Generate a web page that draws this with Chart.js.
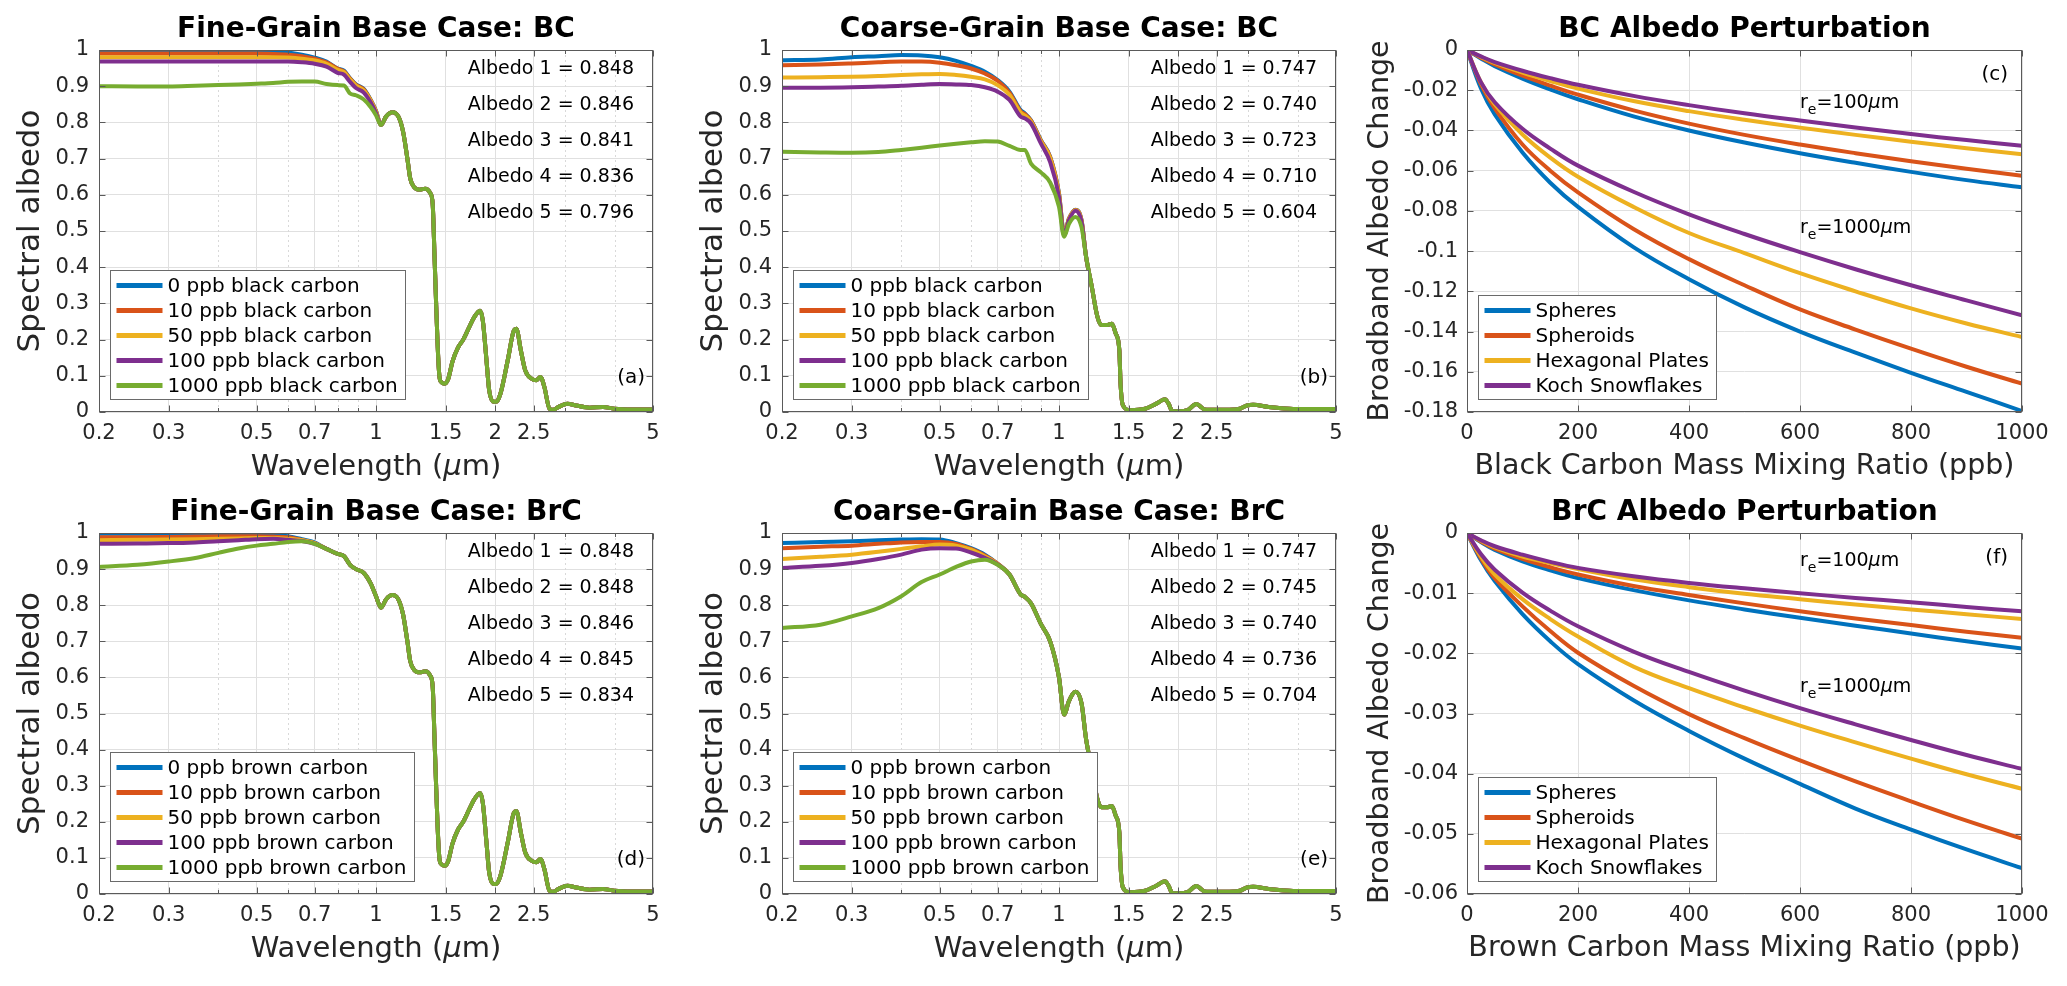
<!DOCTYPE html>
<html>
<head>
<meta charset="utf-8">
<script src="https://cdn.jsdelivr.net/npm/chart.js@4.4.1/dist/chart.umd.min.js"></script>
<style>
  html, body { margin: 0; padding: 0; background: #fff; }
  #fig { position: relative; width: 2067px; height: 986px; overflow: hidden; background: #fff; }
  #fig canvas { position: absolute; }
</style>
</head>
<body>
<div id="fig">
  <canvas id="pa" width="690" height="493" style="left:0px;top:0px"></canvas>
  <canvas id="pb" width="670" height="493" style="left:690px;top:0px"></canvas>
  <canvas id="pc" width="707" height="493" style="left:1360px;top:0px"></canvas>
  <canvas id="pd" width="690" height="493" style="left:0px;top:493px"></canvas>
  <canvas id="pe" width="670" height="493" style="left:690px;top:493px"></canvas>
  <canvas id="pf" width="707" height="493" style="left:1360px;top:493px"></canvas>
</div>
<script>
// ---------------------------------------------------------------------------
// Values
// ---------------------------------------------------------------------------

const COLORS = ["#0072BD", "#D95319", "#EDB120", "#7E2F8E", "#77AC30"];

const BC_LABELS = ["0 ppb black carbon", "10 ppb black carbon", "50 ppb black carbon",
  "100 ppb black carbon", "1000 ppb black carbon"];
const BRC_LABELS = ["0 ppb brown carbon", "10 ppb brown carbon", "50 ppb brown carbon",
  "100 ppb brown carbon", "1000 ppb brown carbon"];
const SHAPE_LABELS = ["Spheres", "Spheroids", "Hexagonal Plates", "Koch Snowflakes"];

// wavelength axis (µm), log scale
const WL_TICKS = [0.2, 0.3, 0.5, 0.7, 1, 1.5, 2, 2.5, 5];
const WL_MINOR = [0.4, 0.6, 0.8, 0.9, 3, 4];

// broadband albedos printed in the corner of each spectral panel
const ALBEDO_A = [0.848, 0.846, 0.841, 0.836, 0.796];
const ALBEDO_B = [0.747, 0.740, 0.723, 0.710, 0.604];
const ALBEDO_D = [0.848, 0.848, 0.846, 0.845, 0.834];
const ALBEDO_E = [0.747, 0.745, 0.740, 0.736, 0.704];

// --- fine grain: the series differ only below ~1 µm, after that they coincide
const WL_FINE_HEAD = [0.2, 0.25, 0.3, 0.35, 0.4, 0.45, 0.5, 0.55, 0.6, 0.65, 0.7, 0.75, 0.8, 0.83, 0.86, 0.89, 0.93, 0.97, 1.0];

const FINE_BC_0    = [0.997, 0.997, 0.997, 0.997, 0.997, 0.997, 0.997, 0.996, 0.993, 0.987, 0.979, 0.968, 0.949, 0.943, 0.922, 0.905, 0.893, 0.862, 0.832];
const FINE_BC_10   = [0.990, 0.990, 0.990, 0.990, 0.990, 0.990, 0.990, 0.989, 0.987, 0.983, 0.976, 0.966, 0.948, 0.941, 0.921, 0.904, 0.892, 0.861, 0.831];
const FINE_BC_50   = [0.980, 0.980, 0.980, 0.980, 0.980, 0.980, 0.980, 0.980, 0.979, 0.976, 0.971, 0.962, 0.945, 0.939, 0.919, 0.902, 0.889, 0.860, 0.830];
const FINE_BC_100  = [0.968, 0.968, 0.968, 0.968, 0.968, 0.968, 0.968, 0.968, 0.968, 0.966, 0.962, 0.954, 0.937, 0.932, 0.912, 0.895, 0.883, 0.855, 0.826];
const FINE_BC_1000 = [0.900, 0.899, 0.899, 0.901, 0.903, 0.905, 0.907, 0.909, 0.912, 0.913, 0.913, 0.906, 0.903, 0.902, 0.880, 0.875, 0.864, 0.842, 0.820];

const FINE_BRC_0    = [0.998, 0.998, 0.998, 0.998, 0.998, 0.998, 0.997, 0.995, 0.991, 0.983, 0.974, 0.956, 0.942, 0.936, 0.912, 0.900, 0.890, 0.860, 0.825];
const FINE_BRC_10   = [0.988, 0.988, 0.989, 0.990, 0.991, 0.991, 0.991, 0.990, 0.988, 0.981, 0.972, 0.956, 0.942, 0.936, 0.912, 0.900, 0.890, 0.860, 0.825];
const FINE_BRC_50   = [0.980, 0.981, 0.982, 0.983, 0.984, 0.985, 0.986, 0.986, 0.984, 0.980, 0.972, 0.956, 0.942, 0.936, 0.912, 0.900, 0.890, 0.860, 0.825];
const FINE_BRC_100  = [0.970, 0.971, 0.972, 0.974, 0.977, 0.980, 0.983, 0.984, 0.981, 0.978, 0.970, 0.956, 0.942, 0.936, 0.912, 0.900, 0.890, 0.860, 0.825];
const FINE_BRC_1000 = [0.906, 0.912, 0.921, 0.931, 0.945, 0.957, 0.965, 0.970, 0.975, 0.977, 0.970, 0.956, 0.942, 0.936, 0.912, 0.900, 0.890, 0.860, 0.825];

const WL_FINE_TAIL = [1.03, 1.06, 1.1, 1.14, 1.17, 1.2, 1.22, 1.25, 1.29, 1.33, 1.37, 1.39, 1.405, 1.415, 1.43, 1.445, 1.46, 1.49, 1.52, 1.56,
  1.61, 1.66, 1.72, 1.77, 1.83, 1.86, 1.9, 1.93, 1.98, 2.01, 2.06, 2.15, 2.23, 2.26, 2.32, 2.38, 2.47, 2.54, 2.6, 2.66,
  2.74, 2.8, 2.89, 3.04, 3.2, 3.46, 3.74, 3.99, 4.48, 5.0];
const FINE_TAIL = [0.793, 0.816, 0.828, 0.815, 0.775, 0.700, 0.645, 0.620, 0.614, 0.617, 0.605, 0.575, 0.430, 0.330, 0.190, 0.100, 0.083, 0.078, 0.090, 0.140,
  0.178, 0.200, 0.235, 0.262, 0.280, 0.253, 0.143, 0.060, 0.028, 0.028, 0.050, 0.143, 0.226, 0.230, 0.170, 0.115, 0.092, 0.088, 0.097, 0.069,
  0.009, 0.006, 0.014, 0.023, 0.018, 0.012, 0.014, 0.009, 0.007, 0.007];

// --- coarse grain: series differ up to ~1.15 µm
const WL_COARSE_HEAD = [0.2, 0.25, 0.3, 0.35, 0.4, 0.45, 0.5, 0.55, 0.6, 0.65, 0.7, 0.75, 0.8, 0.82, 0.85, 0.9, 0.95, 1.0, 1.03, 1.06, 1.1, 1.14];

const COARSE_BC_0    = [0.972, 0.974, 0.980, 0.983, 0.986, 0.985, 0.980, 0.970, 0.956, 0.940, 0.917, 0.885, 0.834, 0.825, 0.806, 0.751, 0.705, 0.604, 0.493, 0.535, 0.559, 0.530];
const COARSE_BC_10   = [0.958, 0.960, 0.963, 0.966, 0.968, 0.968, 0.965, 0.958, 0.949, 0.935, 0.915, 0.882, 0.831, 0.823, 0.805, 0.750, 0.704, 0.603, 0.492, 0.534, 0.558, 0.529];
const COARSE_BC_50   = [0.924, 0.925, 0.926, 0.928, 0.931, 0.933, 0.934, 0.931, 0.926, 0.919, 0.903, 0.876, 0.827, 0.819, 0.802, 0.748, 0.701, 0.600, 0.491, 0.533, 0.557, 0.528];
const COARSE_BC_100  = [0.896, 0.896, 0.897, 0.899, 0.901, 0.904, 0.906, 0.905, 0.903, 0.897, 0.885, 0.862, 0.816, 0.811, 0.797, 0.742, 0.690, 0.594, 0.488, 0.530, 0.556, 0.526];
const COARSE_BC_1000 = [0.719, 0.717, 0.716, 0.718, 0.724, 0.730, 0.736, 0.741, 0.745, 0.748, 0.747, 0.735, 0.724, 0.724, 0.686, 0.662, 0.634, 0.567, 0.484, 0.520, 0.539, 0.510];

const COARSE_BRC_0    = [0.972, 0.975, 0.977, 0.980, 0.982, 0.983, 0.982, 0.972, 0.958, 0.940, 0.915, 0.885, 0.830, 0.823, 0.805, 0.748, 0.700, 0.600, 0.497, 0.535, 0.560, 0.528];
const COARSE_BRC_10   = [0.958, 0.962, 0.965, 0.970, 0.974, 0.975, 0.975, 0.970, 0.956, 0.938, 0.915, 0.885, 0.830, 0.823, 0.805, 0.748, 0.700, 0.600, 0.497, 0.535, 0.560, 0.528];
const COARSE_BRC_50   = [0.928, 0.934, 0.940, 0.948, 0.956, 0.963, 0.968, 0.965, 0.954, 0.935, 0.914, 0.885, 0.830, 0.823, 0.805, 0.748, 0.700, 0.600, 0.497, 0.535, 0.560, 0.528];
const COARSE_BRC_100  = [0.903, 0.909, 0.917, 0.928, 0.940, 0.954, 0.958, 0.957, 0.946, 0.931, 0.913, 0.885, 0.830, 0.823, 0.805, 0.748, 0.700, 0.600, 0.497, 0.535, 0.560, 0.528];
const COARSE_BRC_1000 = [0.737, 0.746, 0.769, 0.792, 0.825, 0.864, 0.885, 0.906, 0.921, 0.926, 0.912, 0.885, 0.830, 0.823, 0.805, 0.748, 0.700, 0.600, 0.497, 0.535, 0.560, 0.528];

const WL_COARSE_TAIL = [1.17, 1.21, 1.25, 1.28, 1.32, 1.36, 1.39, 1.42, 1.43, 1.45, 1.51, 1.65, 1.76, 1.85, 1.89,
  1.93, 2.01, 2.11, 2.22, 2.27, 2.33, 2.49, 2.69, 2.86, 2.98, 3.09, 3.38, 3.70, 4.04, 5.0];
const COARSE_TAIL = [0.430, 0.346, 0.263, 0.240, 0.240, 0.244, 0.217, 0.170, 0.078, 0.018, 0.005, 0.009, 0.023, 0.035, 0.023,
  0.003, 0.002, 0.005, 0.022, 0.016, 0.007, 0.006, 0.006, 0.009, 0.018, 0.020, 0.014, 0.010, 0.008, 0.008];

// --- albedo perturbation vs mixing ratio (ppb)
const PPB = [0, 25, 50, 100, 150, 200, 300, 400, 500, 600, 700, 800, 900, 1000];

const BC100_SPHERE    = [0, -0.0042, -0.0080, -0.0142, -0.0196, -0.0245, -0.0330, -0.0400, -0.0460, -0.0513, -0.0561, -0.0606, -0.0647, -0.0683];
const BC100_SPHEROID  = [0, -0.0038, -0.0072, -0.0128, -0.0177, -0.0222, -0.0300, -0.0366, -0.0422, -0.0470, -0.0513, -0.0553, -0.0590, -0.0625];
const BC100_HEX       = [0, -0.0034, -0.0064, -0.0112, -0.0154, -0.0192, -0.0254, -0.0304, -0.0347, -0.0386, -0.0422, -0.0456, -0.0488, -0.0519];
const BC100_KOCH      = [0, -0.0032, -0.0060, -0.0103, -0.0140, -0.0173, -0.0228, -0.0274, -0.0315, -0.0351, -0.0385, -0.0418, -0.0448, -0.0476];
const BC1000_SPHERE   = [0, -0.0190, -0.0320, -0.0510, -0.0660, -0.0780, -0.0980, -0.1140, -0.1280, -0.1400, -0.1505, -0.1605, -0.1700, -0.1795];
const BC1000_SPHEROID = [0, -0.0170, -0.0290, -0.0470, -0.0600, -0.0708, -0.0890, -0.1040, -0.1170, -0.1290, -0.1390, -0.1485, -0.1575, -0.1659];
const BC1000_HEX      = [0, -0.0160, -0.0270, -0.0420, -0.0535, -0.0630, -0.0780, -0.0910, -0.1010, -0.1110, -0.1200, -0.1285, -0.1360, -0.1427];
const BC1000_KOCH     = [0, -0.0160, -0.0260, -0.0392, -0.0490, -0.0575, -0.0705, -0.0817, -0.0915, -0.1005, -0.1090, -0.1170, -0.1245, -0.1319];

const BRC100_SPHERE    = [0, -0.0015, -0.0028, -0.0047, -0.0062, -0.0075, -0.0095, -0.0112, -0.0127, -0.0141, -0.0154, -0.0167, -0.0180, -0.0192];
const BRC100_SPHEROID  = [0, -0.0014, -0.0026, -0.0043, -0.0057, -0.0069, -0.0088, -0.0103, -0.0117, -0.0130, -0.0142, -0.0153, -0.0164, -0.0174];
const BRC100_HEX       = [0, -0.0013, -0.0024, -0.0039, -0.0050, -0.0060, -0.0077, -0.0090, -0.0101, -0.0110, -0.0119, -0.0127, -0.0135, -0.0143];
const BRC100_KOCH      = [0, -0.0012, -0.0022, -0.0036, -0.0048, -0.0058, -0.0072, -0.0083, -0.0092, -0.0100, -0.0108, -0.0115, -0.0123, -0.0130];
const BRC1000_SPHERE   = [0, -0.0045, -0.0080, -0.0135, -0.0180, -0.0218, -0.0278, -0.0329, -0.0375, -0.0417, -0.0458, -0.0493, -0.0526, -0.0557];
const BRC1000_SPHEROID = [0, -0.0042, -0.0075, -0.0122, -0.0163, -0.0199, -0.0254, -0.0301, -0.0341, -0.0378, -0.0413, -0.0446, -0.0478, -0.0508];
const BRC1000_HEX      = [0, -0.0039, -0.0069, -0.0110, -0.0143, -0.0172, -0.0222, -0.0258, -0.0290, -0.0320, -0.0348, -0.0375, -0.0401, -0.0425];
const BRC1000_KOCH     = [0, -0.0035, -0.0061, -0.0099, -0.0129, -0.0155, -0.0197, -0.0231, -0.0262, -0.0291, -0.0318, -0.0344, -0.0369, -0.0392];

// ---------------------------------------------------------------------------
// Styling
// ---------------------------------------------------------------------------

const FONT = "'DejaVu Sans', 'Liberation Sans', sans-serif";
const TEXT = "#262626";
const AXIS = "#5a5a5a";
const GRID = "#e0e0e0";
const MINOR_GRID = "#d9d9d9";

Chart.defaults.font.family = FONT;
Chart.defaults.color = TEXT;

function tickText(v) {
  return String(Number(v.toFixed(4)));
}

// ---------------------------------------------------------------------------
// Dataset builders
// ---------------------------------------------------------------------------

function spectralSets(labels, heads, headWl, tailWl, tail) {
  return heads.map((head, i) => ({
    label: labels[i],
    inLegend: true,
    data: headWl.map((x, j) => ({ x, y: head[j] }))
      .concat(tailWl.map((x, j) => ({ x, y: tail[j] }))),
    borderColor: COLORS[i],
    order: heads.length - i,
    cubicInterpolationMode: "monotone",
    clip: 0,
  }));
}

function perturbSets(small, big) {
  const one = (ys, i, inLegend, order) => ({
    label: SHAPE_LABELS[i],
    inLegend,
    data: PPB.map((x, j) => ({ x, y: ys[j] })),
    borderColor: COLORS[i],
    order,
    cubicInterpolationMode: "default",
    tension: 0.4,
    clip: 0,
  });
  return small.map((ys, i) => one(ys, i, true, 8 - i))
    .concat(big.map((ys, i) => one(ys, i, false, 4 - i)));
}

// ---------------------------------------------------------------------------
// Text bits drawn on top of each panel
// ---------------------------------------------------------------------------

const WL_TITLE = [{ t: "Wavelength (", size: 29 }, { t: "\u03bc", size: 29, italic: true }, { t: "m)", size: 29 }];
const re = (n) => [{ t: "r", size: 19 }, { t: "e", size: 14, dy: 7 }, { t: "=" + n, size: 19 },
  { t: "\u03bc", size: 19, italic: true }, { t: "m", size: 19 }];

const DECOR = {
  pa: { title: "Fine-Grain Base Case: BC", xTitle: WL_TITLE, yTitle: "Spectral albedo", yTitleSize: 31, yTitleGap: 68,
        albedo: ALBEDO_A, tag: "(a)", minorX: WL_MINOR },
  pb: { title: "Coarse-Grain Base Case: BC", xTitle: WL_TITLE, yTitle: "Spectral albedo", yTitleSize: 31, yTitleGap: 68,
        albedo: ALBEDO_B, tag: "(b)", minorX: WL_MINOR },
  pd: { title: "Fine-Grain Base Case: BrC", xTitle: WL_TITLE, yTitle: "Spectral albedo", yTitleSize: 31, yTitleGap: 68,
        albedo: ALBEDO_D, tag: "(d)", minorX: WL_MINOR },
  pe: { title: "Coarse-Grain Base Case: BrC", xTitle: WL_TITLE, yTitle: "Spectral albedo", yTitleSize: 31, yTitleGap: 68,
        albedo: ALBEDO_E, tag: "(e)", minorX: WL_MINOR },
  pc: { title: "BC Albedo Perturbation", xTitle: [{ t: "Black Carbon Mass Mixing Ratio (ppb)", size: 28.5 }],
        yTitle: "Broadband Albedo Change", yTitleSize: 28.5, yTitleGap: 86, tag: "(c)", tagTop: true,
        re: [{ runs: re("100"), x: 600, y: -0.0265 }, { runs: re("1000"), x: 600, y: -0.0885 }] },
  pf: { title: "BrC Albedo Perturbation", xTitle: [{ t: "Brown Carbon Mass Mixing Ratio (ppb)", size: 28.5 }],
        yTitle: "Broadband Albedo Change", yTitleSize: 28.5, yTitleGap: 86, tag: "(f)", tagTop: true,
        re: [{ runs: re("100"), x: 600, y: -0.0047 }, { runs: re("1000"), x: 600, y: -0.0256 }] },
};

function runFont(r) {
  return `${r.italic ? "italic " : ""}${r.bold ? "bold " : ""}${r.size}px ${FONT}`;
}

function drawRuns(ctx, runs, x, y, align) {
  const widths = runs.map(r => { ctx.font = runFont(r); return ctx.measureText(r.t).width; });
  const total = widths.reduce((s, w) => s + w, 0);
  let cx = align === "center" ? x - total / 2 : x;
  ctx.textAlign = "left";
  ctx.textBaseline = "middle";
  runs.forEach((r, i) => {
    ctx.font = runFont(r);
    ctx.fillText(r.t, cx, y + (r.dy || 0));
    cx += widths[i];
  });
}

function segment(ctx, x1, y1, x2, y2) {
  ctx.beginPath();
  ctx.moveTo(x1, y1);
  ctx.lineTo(x2, y2);
  ctx.stroke();
}

function drawLegend(chart) {
  const { ctx, chartArea: a } = chart;
  const items = chart.data.datasets.filter(ds => ds.inLegend);
  ctx.font = `20px ${FONT}`;
  const textW = Math.max(...items.map(it => ctx.measureText(it.label).width));
  const w = Math.round(57 + textW + 8);
  const h = 15 + (items.length - 1) * 25 + 14;
  const x0 = Math.round(a.left + 11) + 0.5;
  const y0 = Math.round(a.bottom - 13 - h) + 0.5;

  ctx.fillStyle = "#fff";
  ctx.fillRect(x0, y0, w, h);
  ctx.strokeStyle = "#6a6a6a";
  ctx.lineWidth = 1;
  ctx.strokeRect(x0, y0, w, h);

  items.forEach((it, i) => {
    const y = y0 + 15 + i * 25;
    ctx.strokeStyle = it.borderColor;
    ctx.lineWidth = 5;
    segment(ctx, x0 + 6, y, x0 + 52, y);
    ctx.fillStyle = "#000";
    ctx.font = `20px ${FONT}`;
    ctx.textAlign = "left";
    ctx.textBaseline = "middle";
    ctx.fillText(it.label, x0 + 57, y + 1);
  });
}

const figurePlugin = {
  id: "figure",

  beforeDatasetsDraw(chart) {
    const d = DECOR[chart.canvas.id];
    if (!d.minorX) return;
    const { ctx, chartArea: a } = chart;
    ctx.save();
    ctx.strokeStyle = MINOR_GRID;
    ctx.lineWidth = 1;
    ctx.setLineDash([2, 3]);
    d.minorX.forEach(v => {
      const px = Math.round(chart.scales.x.getPixelForValue(v)) + 0.5;
      segment(ctx, px, a.top, px, a.bottom);
    });
    ctx.restore();
  },

  afterDatasetsDraw(chart) {
    const d = DECOR[chart.canvas.id];
    const { ctx, chartArea: a, scales } = chart;
    ctx.save();

    // axes box and inward tick marks
    ctx.strokeStyle = AXIS;
    ctx.lineWidth = 1;
    const L = Math.round(a.left) + 0.5, R = Math.round(a.right) - 0.5;
    const T = Math.round(a.top) + 0.5, B = Math.round(a.bottom) - 0.5;
    ctx.strokeRect(L, T, R - L, B - T);

    const xMarks = scales.x.ticks.map(t => [t.value, 6]).concat((d.minorX || []).map(v => [v, 3.5]));
    xMarks.forEach(([v, len]) => {
      const px = Math.round(scales.x.getPixelForValue(v)) + 0.5;
      segment(ctx, px, B, px, B - len);
      segment(ctx, px, T, px, T + len);
    });
    scales.y.ticks.forEach(t => {
      const py = Math.round(scales.y.getPixelForValue(t.value)) + 0.5;
      segment(ctx, L, py, L + 6, py);
      segment(ctx, R, py, R - 6, py);
    });

    drawLegend(chart);

    ctx.fillStyle = "#000";
    if (d.albedo) {
      ctx.font = `19px ${FONT}`;
      ctx.textAlign = "right";
      ctx.textBaseline = "middle";
      d.albedo.forEach((v, i) => {
        ctx.fillText(`Albedo ${i + 1} = ${v.toFixed(3)}`, a.right - 19, a.top + 19 + i * 36);
      });
    }

    ctx.font = `20px ${FONT}`;
    ctx.textAlign = "right";
    ctx.textBaseline = "middle";
    if (d.tagTop) ctx.fillText(d.tag, a.right - 14, a.top + 25);
    else ctx.fillText(d.tag, a.right - 8, a.bottom - 34);

    (d.re || []).forEach(lbl => {
      drawRuns(ctx, lbl.runs, scales.x.getPixelForValue(lbl.x), scales.y.getPixelForValue(lbl.y), "left");
    });

    ctx.restore();
  },

  afterDraw(chart) {
    const d = DECOR[chart.canvas.id];
    const { ctx, chartArea: a } = chart;
    const cx = (a.left + a.right) / 2;
    ctx.save();
    ctx.fillStyle = "#000";
    drawRuns(ctx, [{ t: d.title, size: 28, bold: true }], cx, a.top - 20, "center");

    ctx.fillStyle = TEXT;
    drawRuns(ctx, d.xTitle, cx, a.bottom + 55, "center");

    ctx.translate(a.left - d.yTitleGap, (a.top + a.bottom) / 2);
    ctx.rotate(-Math.PI / 2);
    drawRuns(ctx, [{ t: d.yTitle, size: d.yTitleSize }], 0, 0, "center");
    ctx.restore();
  },
};

// ---------------------------------------------------------------------------
// Chart construction
// ---------------------------------------------------------------------------

// plot-box corners inside each canvas
const TOP_ROW = { top: 50, bottom: 412 };
const BOTTOM_ROW = { top: 40, bottom: 401 };
const COL_A = { left: 99, right: 653 };
const COL_B = { left: 92, right: 646 };
const COL_C = { left: 107, right: 662 };

function makeChart(id, col, row, datasets, xOpts, yOpts) {
  const canvas = document.getElementById(id);
  const W = canvas.width, H = canvas.height;
  const g = Object.assign({}, col, row);
  return new Chart(canvas, {
    type: "line",
    data: { datasets },
    options: {
      responsive: false,
      animation: false,
      devicePixelRatio: 1,
      events: [],
      layout: { padding: { top: g.top, right: W - g.right, left: 0, bottom: 0 } },
      plugins: { legend: { display: false }, tooltip: { enabled: false }, title: { display: false } },
      elements: {
        point: { radius: 0 },
        line: { borderWidth: 4, tension: 0.3, fill: false },
      },
      scales: {
        x: Object.assign({ afterFit: s => { s.height = H - g.bottom; } }, xOpts),
        y: Object.assign({ afterFit: s => { s.width = g.left; } }, yOpts),
      },
    },
    plugins: [figurePlugin],
  });
}

const tickFont = { size: 21 };

const wavelengthAxis = {
  type: "logarithmic",
  min: 0.2,
  max: 5,
  afterBuildTicks: s => { s.ticks = WL_TICKS.map(v => ({ value: v })); },
  ticks: { autoSkip: false, maxRotation: 0, minRotation: 0, padding: 9, color: TEXT, font: tickFont,
           callback: v => tickText(v) },
  grid: { color: GRID, drawTicks: false },
  border: { display: false },
};

const albedoAxis = {
  type: "linear",
  min: 0,
  max: 1,
  ticks: { stepSize: 0.1, padding: 10, color: TEXT, font: tickFont, callback: v => tickText(v) },
  grid: { color: GRID, drawTicks: false },
  border: { display: false },
};

const ppbAxis = {
  type: "linear",
  min: 0,
  max: 1000,
  ticks: { stepSize: 200, padding: 9, maxRotation: 0, color: TEXT, font: tickFont, callback: v => tickText(v) },
  grid: { color: GRID, drawTicks: false },
  border: { display: false },
};

function changeAxis(min, step) {
  return {
    type: "linear",
    min,
    max: 0,
    ticks: { stepSize: step, padding: 9, color: TEXT, font: tickFont, callback: v => tickText(v) },
    grid: { color: GRID, drawTicks: false },
    border: { display: false },
  };
}

makeChart("pa", COL_A, TOP_ROW,
  spectralSets(BC_LABELS, [FINE_BC_0, FINE_BC_10, FINE_BC_50, FINE_BC_100, FINE_BC_1000], WL_FINE_HEAD, WL_FINE_TAIL, FINE_TAIL),
  wavelengthAxis, albedoAxis);

makeChart("pb", COL_B, TOP_ROW,
  spectralSets(BC_LABELS, [COARSE_BC_0, COARSE_BC_10, COARSE_BC_50, COARSE_BC_100, COARSE_BC_1000], WL_COARSE_HEAD, WL_COARSE_TAIL, COARSE_TAIL),
  wavelengthAxis, albedoAxis);

makeChart("pc", COL_C, TOP_ROW,
  perturbSets([BC100_SPHERE, BC100_SPHEROID, BC100_HEX, BC100_KOCH], [BC1000_SPHERE, BC1000_SPHEROID, BC1000_HEX, BC1000_KOCH]),
  ppbAxis, changeAxis(-0.18, 0.02));

makeChart("pd", COL_A, BOTTOM_ROW,
  spectralSets(BRC_LABELS, [FINE_BRC_0, FINE_BRC_10, FINE_BRC_50, FINE_BRC_100, FINE_BRC_1000], WL_FINE_HEAD, WL_FINE_TAIL, FINE_TAIL),
  wavelengthAxis, albedoAxis);

makeChart("pe", COL_B, BOTTOM_ROW,
  spectralSets(BRC_LABELS, [COARSE_BRC_0, COARSE_BRC_10, COARSE_BRC_50, COARSE_BRC_100, COARSE_BRC_1000], WL_COARSE_HEAD, WL_COARSE_TAIL, COARSE_TAIL),
  wavelengthAxis, albedoAxis);

makeChart("pf", COL_C, BOTTOM_ROW,
  perturbSets([BRC100_SPHERE, BRC100_SPHEROID, BRC100_HEX, BRC100_KOCH], [BRC1000_SPHERE, BRC1000_SPHEROID, BRC1000_HEX, BRC1000_KOCH]),
  ppbAxis, changeAxis(-0.06, 0.01));
</script>
</body>
</html>
